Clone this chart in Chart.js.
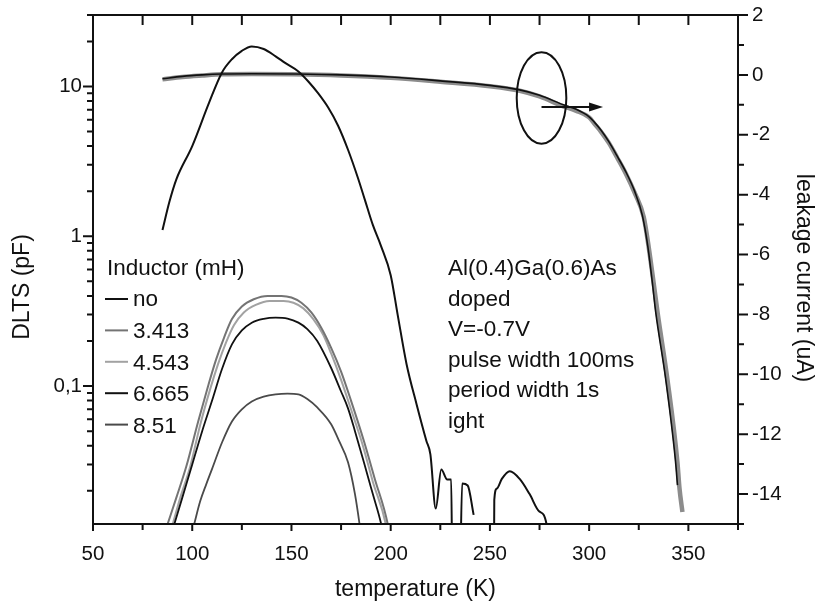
<!DOCTYPE html>
<html>
<head>
<meta charset="utf-8">
<script src="https://cdn.jsdelivr.net/npm/chart.js@4.4.1/dist/chart.umd.min.js"></script>
<style>
  html, body { margin: 0; padding: 0; background: #fff; }
  #wrap { width: 817px; height: 603px; position: relative; }
</style>
</head>
<body>
<div id="wrap"><canvas id="chart"></canvas></div>
<script>
// DLTS signal (pF, left log axis) and leakage current (uA, right axis) vs temperature

// "no" inductor DLTS spectrum (null = gap in the trace)
const noT = [85, 88.5, 92, 100, 108.5, 115, 120, 125, 130, 136, 142, 147, 153.5, 158.5, 163.5, 168.5, 173.5, 178.5, 183.5, 187, 191, 195, 200, 203.5, 208, 213, 218, 220, 222.7, 225.5, 228.5, 230.5, 231, 233,
  235, 236, 238.8, 241.8, 245,
  252, 252.2, 253.5, 256, 260, 265, 270, 275, 278.5, 279];
const noC = [1.1, 1.7, 2.4, 4.0, 7.8, 12.4, 15.2, 17.3, 18.5, 17.8, 15.9, 14.3, 12.6, 10.8, 8.98, 7.23, 5.47, 3.78, 2.45, 1.75, 1.19, 0.87, 0.55, 0.30, 0.14, 0.076, 0.043, 0.035, 0.0152, 0.0277, 0.0238, 0.0238, 0.005, null,
  0.005, 0.0224, 0.0217, 0.0138, null,
  0.005, 0.0174, 0.0207, 0.024, 0.027, 0.024, 0.019, 0.0145, 0.012, 0.008];

const l3413T = [87.6, 92, 97, 103, 108, 112, 116, 120, 125, 131, 138, 145, 150, 155, 160, 165, 170, 175, 180, 186.5, 192, 198.5, 200];
const l3413C = [0.012, 0.018, 0.029, 0.058, 0.1, 0.15, 0.21, 0.28, 0.34, 0.38, 0.40, 0.40, 0.39, 0.36, 0.31, 0.245, 0.18, 0.125, 0.08, 0.043, 0.024, 0.012, 0.009];

const l4543T = [90.2, 94, 99, 104, 109, 113, 117, 121, 126, 132, 139, 146, 151, 156, 161, 166, 170, 175, 180, 186, 191, 197.5, 199];
const l4543C = [0.012, 0.018, 0.029, 0.055, 0.095, 0.14, 0.195, 0.255, 0.31, 0.348, 0.37, 0.37, 0.36, 0.33, 0.28, 0.22, 0.165, 0.11, 0.07, 0.04, 0.023, 0.012, 0.009];

const l6665T = [91, 95, 100, 105, 110, 115, 120, 125, 130, 136, 142, 148, 153.5, 158, 163, 170, 175, 178.5, 182, 186.5, 191, 195.2, 197];
const l6665C = [0.012, 0.018, 0.03, 0.05, 0.08, 0.13, 0.19, 0.235, 0.265, 0.281, 0.286, 0.282, 0.265, 0.24, 0.2, 0.132, 0.092, 0.071, 0.05, 0.031, 0.019, 0.012, 0.009];

const l851T = [101, 104, 107, 110, 115, 120, 125, 130, 136, 142, 148, 153.5, 158, 163, 170, 174, 178.5, 182, 184.3, 186];
const l851C = [0.012, 0.017, 0.022, 0.028, 0.042, 0.058, 0.07, 0.079, 0.085, 0.088, 0.089, 0.088, 0.082, 0.072, 0.0556, 0.043, 0.031, 0.019, 0.012, 0.008];

// leakage current traces (right axis)
const curT = [85, 95, 105, 115, 130, 150, 175, 200, 225, 250, 265, 275, 287, 293.5, 300, 302.5, 306, 310, 314, 318.5, 323, 326.8, 329.5, 331.8, 333.5, 338.5, 343.5, 344.5];
const curI = [-0.13, -0.05, 0.0, 0.03, 0.04, 0.03, 0.0, -0.07, -0.2, -0.35, -0.5, -0.68, -1.0, -1.15, -1.4, -1.57, -1.85, -2.24, -2.7, -3.24, -3.9, -4.69, -5.7, -6.91, -7.91, -10.13, -12.9, -13.7];
const curGT = [85, 95, 105, 115, 130, 150, 175, 200, 225, 250, 265, 275, 287, 293.5, 300, 302.5, 306, 310, 314, 318.5, 323, 327.5, 330, 332.5, 334.5, 339.5, 344.5, 345.5, 347];
const curGI = [-0.15, -0.07, -0.02, 0.02, 0.03, 0.02, -0.02, -0.1, -0.23, -0.38, -0.53, -0.72, -1.05, -1.2, -1.42, -1.62, -1.9, -2.28, -2.75, -3.3, -3.95, -4.75, -5.75, -6.95, -7.95, -10.2, -12.95, -13.8, -14.6];

const legendNames = ['no', '3.413', '4.543', '6.665', '8.51'];
const lineColors = ['#111111', '#747474', '#a2a2a2', '#111111', '#4a4a4a'];

const xTicks = [50, 100, 150, 200, 250, 300, 350];
const dltsTicks = [0.1, 1, 10];
const dltsLabels = ['0,1', '1', '10'];
const curTicks = [2, 0, -2, -4, -6, -8, -10, -12, -14];

const infoLines = ['Al(0.4)Ga(0.6)As', 'doped', 'V=-0.7V', 'pulse width 100ms', 'period width 1s', 'ight'];

function pts(ts, vs) {
  return ts.map((t, i) => ({ x: t, y: vs[i] }));
}

const FONT = "'Liberation Sans', Arial, Helvetica, sans-serif";
Chart.defaults.font.family = FONT;
Chart.defaults.color = '#111';

const frame = {
  id: 'frame',
  afterDatasetsDraw(chart) {
    const { ctx, chartArea: a, scales } = chart;
    const x = scales.x, yl = scales.y, yr = scales.y2;
    ctx.save();
    ctx.strokeStyle = '#111';
    ctx.lineWidth = 2;
    ctx.strokeRect(a.left, a.top, a.right - a.left, a.bottom - a.top);

    ctx.beginPath();
    for (let v = 50; v <= 375; v += 25) {
      const px = x.getPixelForValue(v);
      ctx.moveTo(px, a.bottom); ctx.lineTo(px, a.bottom + (v % 50 === 0 ? 7 : 6));
      ctx.moveTo(px, a.top); ctx.lineTo(px, a.top + 10);
    }
    for (let d = -2; d <= 1; d++) {
      for (let m = 1; m <= 9; m++) {
        const v = m * Math.pow(10, d);
        if (v < yl.min || v > yl.max) continue;
        const py = yl.getPixelForValue(v);
        ctx.moveTo(a.left, py); ctx.lineTo(a.left - (m === 1 ? 10 : 6), py);
      }
    }
    for (let v = -15; v <= 2; v++) {
      const py = yr.getPixelForValue(v);
      ctx.moveTo(a.right, py); ctx.lineTo(a.right + (v % 2 === 0 ? 10 : 6), py);
    }
    ctx.stroke();

    // ellipse and arrow marking the current curves
    const cx = x.getPixelForValue(276), cy = yr.getPixelForValue(-0.77);
    const rx = x.getPixelForValue(288.5) - cx, ry = yr.getPixelForValue(-2.3) - cy;
    ctx.beginPath();
    ctx.ellipse(cx, cy, rx, ry, 0, 0, Math.PI * 2);
    ctx.stroke();
    const ay = yr.getPixelForValue(-1.07);
    const tip = x.getPixelForValue(307);
    ctx.beginPath();
    ctx.moveTo(cx, ay); ctx.lineTo(tip - 8, ay);
    ctx.stroke();
    ctx.fillStyle = '#111';
    ctx.beginPath();
    ctx.moveTo(tip, ay); ctx.lineTo(tip - 14, ay - 4.5); ctx.lineTo(tip - 14, ay + 4.5);
    ctx.closePath(); ctx.fill();

    // legend
    ctx.font = '22.5px ' + FONT;
    ctx.textBaseline = 'alphabetic';
    ctx.textAlign = 'left';
    ctx.fillText('Inductor (mH)', 107, 275);
    legendNames.forEach((n, i) => {
      const by = 306 + i * 31.4;
      ctx.strokeStyle = lineColors[i];
      ctx.lineWidth = 2;
      ctx.beginPath(); ctx.moveTo(105, by - 7); ctx.lineTo(128, by - 7); ctx.stroke();
      ctx.fillText(n, 133, by + (i === 0 ? 0 : 1));
    });

    // measurement conditions
    infoLines.forEach((s, i) => ctx.fillText(s, 448, 275 + i * 30.6));

    // y axis titles
    ctx.font = '23px ' + FONT;
    ctx.textAlign = 'center';
    ctx.textBaseline = 'middle';
    ctx.save();
    ctx.translate(23, 287); ctx.rotate(-Math.PI / 2);
    ctx.fillText('DLTS (pF)', 0, 0);
    ctx.restore();
    ctx.save();
    ctx.translate(803, 278); ctx.rotate(Math.PI / 2);
    ctx.fillText('leakage current (uA)', 0, 0);
    ctx.restore();
    ctx.restore();
  }
};

const dlts = (label, ts, vs, color, w) => ({
  label, data: pts(ts, vs), yAxisID: 'y', borderColor: color, borderWidth: w,
  pointRadius: 0, cubicInterpolationMode: 'monotone', spanGaps: false
});

// vertical axes: fixed width, no extra room for the end labels
const fitY = w => s => { s.width = w; s.paddingTop = 0; s.paddingBottom = 0; };

// first dataset is drawn on top
new Chart(document.getElementById('chart'), {
  type: 'line',
  data: {
    datasets: [
      dlts('no', noT, noC, lineColors[0], 2),
      dlts('6.665', l6665T, l6665C, lineColors[3], 1.8),
      dlts('8.51', l851T, l851C, lineColors[4], 1.8),
      dlts('3.413', l3413T, l3413C, lineColors[1], 2),
      dlts('4.543', l4543T, l4543C, lineColors[2], 2),
      { label: 'current', data: pts(curT, curI), yAxisID: 'y2', borderColor: '#111', borderWidth: 1.6, pointRadius: 0, cubicInterpolationMode: 'monotone' },
      { label: 'current band', data: pts(curGT, curGI), yAxisID: 'y2', borderColor: '#8c8c8c', borderWidth: 4.5, pointRadius: 0, cubicInterpolationMode: 'monotone' }
    ]
  },
  options: {
    responsive: true,
    maintainAspectRatio: false,
    animation: false,
    layout: { padding: { top: 15, left: 0, right: 0, bottom: 0 } },
    plugins: { legend: { display: false }, tooltip: { enabled: false } },
    scales: {
      x: {
        type: 'linear', min: 50, max: 375,
        afterFit: s => { s.height = 79; },
        afterBuildTicks: s => { s.ticks = xTicks.map(v => ({ value: v })); },
        grid: { display: false, drawTicks: false },
        border: { display: false },
        ticks: { padding: 18, color: '#111', font: { size: 20.5 }, maxRotation: 0 },
        title: { display: true, text: 'temperature (K)', color: '#111', font: { size: 23 }, padding: { top: 0, bottom: 0 } }
      },
      y: {
        type: 'logarithmic', position: 'left', min: 0.012, max: 30,
        afterFit: fitY(93),
        afterBuildTicks: s => { s.ticks = dltsTicks.map(v => ({ value: v })); },
        grid: { display: false, drawTicks: false },
        border: { display: false },
        ticks: { padding: 11, color: '#111', font: { size: 20.5 }, callback: (v, i) => dltsLabels[i] }
      },
      y2: {
        type: 'linear', position: 'right', min: -15, max: 2,
        afterFit: fitY(79),
        afterBuildTicks: s => { s.ticks = curTicks.map(v => ({ value: v })); },
        grid: { display: false, drawTicks: false },
        border: { display: false },
        ticks: { padding: 14, color: '#111', font: { size: 20.5 } }
      }
    }
  },
  plugins: [frame]
});
</script>
</body>
</html>
